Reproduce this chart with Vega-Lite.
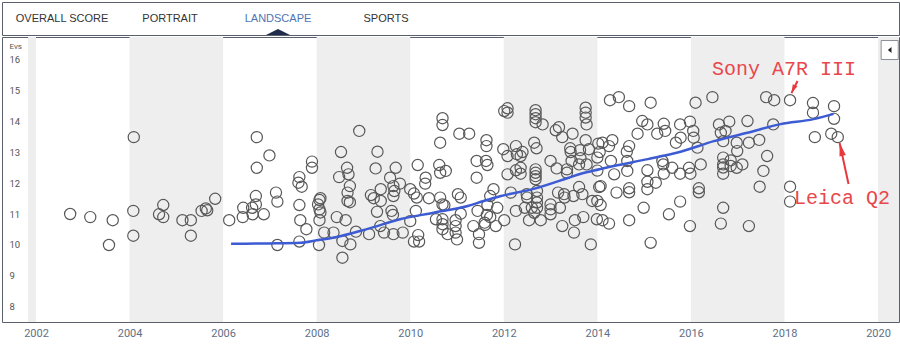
{
"$schema": "https://vega.github.io/schema/vega-lite/v6.json",
"padding": {"left": 1, "top": 1, "right": 2, "bottom": 0},
"spacing": 0,
"background": "white",
"config": {"view": {"stroke": "#59606b", "strokeWidth": 1}, "concat": {"spacing": 0}},
"datasets": {
"bands": [{"start": 2001.83, "end": 2002}, {"start": 2004, "end": 2006}, {"start": 2008, "end": 2010}, {"start": 2012, "end": 2014}, {"start": 2016, "end": 2018}, {"start": 2020, "end": 2022}],
"toggle": [{"year": 2020.25, "evs": 16.29}],
"trend": [{"year":2006.17,"evs":10.04},{"year":2007.0,"evs":10.05},{"year":2007.66,"evs":10.07},{"year":2008.0,"evs":10.15},{"year":2008.37,"evs":10.24},{"year":2009.09,"evs":10.52},{"year":2009.8,"evs":10.84},{"year":2010.5,"evs":11.04},{"year":2011.23,"evs":11.26},{"year":2011.57,"evs":11.42},{"year":2011.94,"evs":11.58},{"year":2012.64,"evs":11.81},{"year":2013.37,"evs":12.16},{"year":2013.65,"evs":12.3},{"year":2014.07,"evs":12.45},{"year":2014.35,"evs":12.55},{"year":2015.08,"evs":12.77},{"year":2015.78,"evs":13.01},{"year":2016.49,"evs":13.35},{"year":2017.21,"evs":13.62},{"year":2017.92,"evs":13.9},{"year":2018.62,"evs":14.06},{"year":2019.05,"evs":14.23}],
"notes": [{"label": "Sony A7R III", "year": 2017.99, "evs": 15.48}, {"label": "Leica Q2", "year": 2019.23, "evs": 11.32}],
"arrows": [{"name": "Sony A7R III", "year": 2018.28, "evs": 15.29, "year2": 2018.15, "evs2": 14.9}, {"name": "Leica Q2", "year": 2019.37, "evs": 11.97, "year2": 2019.18, "evs2": 13.29}],
"cameras": [
{"year":2002.73,"evs":11.0},{"year":2003.16,"evs":10.9},{"year":2003.64,"evs":10.8},{"year":2003.56,"evs":10.0},{"year":2004.09,"evs":13.48},{"year":2004.08,"evs":11.1},{"year":2004.08,"evs":10.3},{"year":2004.72,"evs":11.29},{"year":2004.63,"evs":10.99},{"year":2004.72,"evs":10.9},{"year":2005.13,"evs":10.8},{"year":2005.31,"evs":10.8},{"year":2005.31,"evs":10.3},{"year":2005.54,"evs":11.1},{"year":2005.63,"evs":11.18},{"year":2005.66,"evs":11.12},{"year":2005.83,"evs":11.49},{"year":2006.13,"evs":10.8},{"year":2006.42,"evs":10.9},{"year":2006.43,"evs":11.2},{"year":2006.62,"evs":11.2},{"year":2006.7,"evs":11.31},{"year":2006.7,"evs":11.58},{"year":2006.63,"evs":10.99},{"year":2006.72,"evs":13.48},{"year":2006.72,"evs":12.49},{"year":2006.99,"evs":12.89},{"year":2006.87,"evs":10.99},{"year":2007.13,"evs":11.69},{"year":2007.16,"evs":11.4},{"year":2007.16,"evs":10.0},{"year":2007.63,"evs":12.19},{"year":2007.61,"evs":12.01},{"year":2007.68,"evs":11.88},{"year":2007.63,"evs":11.29},{"year":2007.65,"evs":10.8},{"year":2007.78,"evs":10.51},{"year":2007.63,"evs":10.11},{"year":2007.9,"evs":12.69},{"year":2007.9,"evs":12.49},{"year":2008.08,"evs":11.51},{"year":2008.06,"evs":11.45},{"year":2008.03,"evs":11.31},{"year":2008.06,"evs":11.15},{"year":2008.08,"evs":11.05},{"year":2008.06,"evs":10.8},{"year":2008.16,"evs":10.4},{"year":2008.05,"evs":10.0},
{"year":2008.36,"evs":10.4},{"year":2008.43,"evs":10.9},{"year":2008.62,"evs":10.8},{"year":2008.52,"evs":13.0},{"year":2008.65,"evs":12.49},{"year":2008.68,"evs":12.28},{"year":2008.48,"evs":12.19},{"year":2008.71,"evs":11.9},{"year":2008.66,"evs":11.69},{"year":2008.66,"evs":11.42},{"year":2008.71,"evs":11.38},{"year":2008.55,"evs":10.13},{"year":2008.72,"evs":10.02},{"year":2008.55,"evs":9.59},{"year":2008.91,"evs":13.68},{"year":2008.84,"evs":10.43},{"year":2009.12,"evs":10.35},{"year":2009.16,"evs":11.61},{"year":2009.22,"evs":11.51},{"year":2009.3,"evs":13.01},{"year":2009.26,"evs":12.47},{"year":2009.37,"evs":11.8},{"year":2009.37,"evs":11.42},{"year":2009.29,"evs":11.07},{"year":2009.36,"evs":10.61},{"year":2009.44,"evs":10.4},{"year":2009.69,"evs":12.49},{"year":2009.57,"evs":12.17},{"year":2009.64,"evs":11.9},{"year":2009.78,"evs":11.98},{"year":2009.66,"evs":11.74},{"year":2009.64,"evs":11.58},{"year":2009.6,"evs":11.1},{"year":2009.63,"evs":10.97},{"year":2009.64,"evs":10.35},{"year":2009.84,"evs":10.4},{"year":2010.0,"evs":11.8},{"year":2010.08,"evs":11.66},{"year":2010.14,"evs":11.53},{"year":2010.16,"evs":12.58},{"year":2010.0,"evs":10.77},{"year":2010.12,"evs":11.1},{"year":2010.17,"evs":10.32},{"year":2010.08,"evs":10.11},{"year":2010.19,"evs":10.11},{"year":2010.33,"evs":12.17},{"year":2010.32,"evs":11.98},{"year":2010.4,"evs":11.51},{"year":2010.69,"evs":14.09},{"year":2010.69,"evs":13.87},{"year":2010.64,"evs":13.3},{"year":2010.62,"evs":12.58},{"year":2010.64,"evs":12.33},{"year":2010.76,"evs":12.39},{"year":2010.64,"evs":11.53},{"year":2010.69,"evs":11.31},{"year":2010.73,"evs":11.28},{"year":2010.55,"evs":10.83},{"year":2010.69,"evs":10.83},{"year":2010.69,"evs":10.67},{"year":2010.69,"evs":10.51},{"year":2010.8,"evs":10.35},
{"year":2011.05,"evs":13.59},{"year":2011.26,"evs":13.59},{"year":2011.02,"evs":11.64},{"year":2011.08,"evs":11.53},{"year":2011.08,"evs":11.01},{"year":2010.97,"evs":10.8},{"year":2010.97,"evs":10.61},{"year":2010.97,"evs":10.4},{"year":2011.0,"evs":10.18},{"year":2011.35,"evs":10.61},{"year":2011.47,"evs":10.35},{"year":2011.47,"evs":10.07},{"year":2011.42,"evs":12.71},{"year":2011.42,"evs":12.17},{"year":2011.62,"evs":12.71},{"year":2011.65,"evs":12.58},{"year":2011.63,"evs":13.38},{"year":2011.63,"evs":13.19},{"year":2011.78,"evs":11.8},{"year":2011.71,"evs":11.58},{"year":2011.44,"evs":11.1},{"year":2011.65,"evs":11.29},{"year":2011.64,"evs":10.97},{"year":2011.71,"evs":10.9},{"year":2011.86,"evs":11.2},{"year":2011.59,"evs":10.72},{"year":2011.6,"evs":10.65},{"year":2011.83,"evs":10.61},{"year":2012.01,"evs":10.8},{"year":2012.01,"evs":14.32},{"year":2012.08,"evs":14.41},{"year":2012.08,"evs":14.27},{"year":2011.99,"evs":13.09},{"year":2012.08,"evs":12.87},{"year":2012.26,"evs":13.19},{"year":2012.28,"evs":12.93},{"year":2012.36,"evs":12.87},{"year":2012.4,"evs":13.0},{"year":2012.36,"evs":12.49},{"year":2012.26,"evs":12.41},{"year":2012.08,"evs":12.28},{"year":2012.36,"evs":12.3},{"year":2012.15,"evs":11.69},{"year":2012.24,"evs":10.02},{"year":2012.26,"evs":11.1},{"year":2012.49,"evs":11.64},{"year":2012.5,"evs":11.53},{"year":2012.45,"evs":11.2},{"year":2012.54,"evs":10.8},{"year":2012.6,"evs":11.2},{"year":2012.65,"evs":13.3},{"year":2012.7,"evs":13.12},{"year":2012.68,"evs":14.35},{"year":2012.68,"evs":14.22},{"year":2012.68,"evs":14.09},{"year":2012.68,"evs":13.96},{"year":2012.83,"evs":13.89},{"year":2012.68,"evs":12.44},{"year":2012.68,"evs":12.33},{"year":2012.68,"evs":12.22},{"year":2012.68,"evs":12.12},{"year":2012.71,"evs":11.74},{"year":2012.71,"evs":11.53},{"year":2012.71,"evs":11.37},{"year":2012.71,"evs":11.2},{"year":2012.65,"evs":11.04},{"year":2012.79,"evs":10.8},{"year":2013.0,"evs":12.71},{"year":2013.11,"evs":13.7},{"year":2013.18,"evs":13.8},{"year":2013.25,"evs":13.48},{"year":2013.47,"evs":13.59},{"year":2013.13,"evs":12.47},{"year":2013.16,"evs":11.69},{"year":2013.29,"evs":11.64},{"year":2013.3,"evs":11.53},{"year":2013.0,"evs":11.31},{"year":2013.0,"evs":11.15},{"year":2013.0,"evs":10.99},{"year":2013.2,"evs":11.2},{"year":2013.25,"evs":10.61},{"year":2013.42,"evs":13.12},{"year":2013.43,"evs":13.0},{"year":2013.45,"evs":12.71},{"year":2013.35,"evs":12.44},{"year":2013.35,"evs":12.33},{"year":2013.49,"evs":11.58},{"year":2013.52,"evs":10.8},{"year":2013.5,"evs":10.4},{"year":2013.61,"evs":11.87},{"year":2013.68,"evs":11.64},{"year":2013.7,"evs":10.9},{"year":2013.63,"evs":13.06},{"year":2013.64,"evs":12.8},{"year":2013.61,"evs":12.6},{"year":2013.75,"evs":14.43},{"year":2013.75,"evs":14.27},{"year":2013.75,"evs":14.11},{"year":2013.77,"evs":13.89},{"year":2013.75,"evs":13.38},{"year":2013.82,"evs":13.09},{"year":2013.77,"evs":12.6},{"year":2013.89,"evs":11.42},{"year":2013.86,"evs":10.02},{"year":2014.0,"evs":12.82},{"year":2014.0,"evs":12.4},{"year":2014.04,"evs":11.87},{"year":2014.0,"evs":11.42},{"year":2013.99,"evs":10.83},{"year":2014.02,"evs":13.27},
{"year":2014.27,"evs":14.67},{"year":2014.46,"evs":14.77},{"year":2014.68,"evs":14.48},{"year":2015.14,"evs":14.59},{"year":2016.1,"evs":14.59},{"year":2016.46,"evs":14.77},{"year":2014.11,"evs":13.3},{"year":2014.05,"evs":13.0},{"year":2014.32,"evs":13.38},{"year":2014.25,"evs":13.19},{"year":2014.29,"evs":12.71},{"year":2014.36,"evs":12.28},{"year":2014.63,"evs":13.01},{"year":2014.68,"evs":13.19},{"year":2014.64,"evs":12.71},{"year":2014.64,"evs":12.39},{"year":2014.86,"evs":13.59},{"year":2014.96,"evs":14.0},{"year":2015.07,"evs":13.89},{"year":2015.07,"evs":12.41},{"year":2015.07,"evs":12.04},{"year":2015.07,"evs":11.8},{"year":2015.25,"evs":12.01},{"year":2015.28,"evs":13.59},{"year":2015.42,"evs":13.91},{"year":2015.45,"evs":13.68},{"year":2015.39,"evs":12.71},{"year":2015.41,"evs":12.6},{"year":2015.42,"evs":12.3},{"year":2015.6,"evs":12.49},{"year":2015.68,"evs":13.3},{"year":2015.77,"evs":13.89},{"year":2015.78,"evs":13.46},{"year":2015.77,"evs":12.3},{"year":2015.98,"evs":13.98},{"year":2016.05,"evs":13.68},{"year":2016.06,"evs":13.46},{"year":2016.14,"evs":13.14},{"year":2015.96,"evs":12.49},{"year":2015.99,"evs":12.3},{"year":2016.21,"evs":12.6},{"year":2016.17,"evs":11.83},{"year":2016.17,"evs":11.7},{"year":2016.6,"evs":13.89},{"year":2016.82,"evs":13.98},{"year":2016.64,"evs":13.62},{"year":2016.74,"evs":13.68},{"year":2016.69,"evs":13.35},{"year":2016.98,"evs":13.3},{"year":2016.99,"evs":13.03},{"year":2017.21,"evs":14.0},{"year":2017.24,"evs":13.3},{"year":2016.69,"evs":12.82},{"year":2016.69,"evs":12.6},{"year":2016.69,"evs":12.5},{"year":2016.69,"evs":12.3},{"year":2016.85,"evs":12.73},{"year":2016.85,"evs":12.55},{"year":2016.98,"evs":12.49},{"year":2017.1,"evs":12.6},{"year":2014.07,"evs":11.9},{"year":2014.07,"evs":11.29},{"year":2014.11,"evs":10.8},{"year":2014.25,"evs":10.69},{"year":2014.41,"evs":11.69},{"year":2014.68,"evs":11.83},{"year":2014.68,"evs":11.7},{"year":2014.68,"evs":10.8},{"year":2014.99,"evs":11.2},{"year":2015.14,"evs":10.07},{"year":2015.53,"evs":10.99},{"year":2015.77,"evs":11.4},{"year":2015.98,"evs":10.61},{"year":2016.64,"evs":10.69},{"year":2016.69,"evs":11.2},{"year":2017.24,"evs":10.61},
{"year":2017.61,"evs":14.77},{"year":2017.78,"evs":14.67},{"year":2018.12,"evs":14.67},{"year":2018.61,"evs":14.58},{"year":2018.61,"evs":14.27},{"year":2019.06,"evs":14.48},{"year":2019.06,"evs":14.07},{"year":2018.65,"evs":13.48},{"year":2019.0,"evs":13.59},{"year":2019.14,"evs":13.48},{"year":2017.76,"evs":13.89},{"year":2017.46,"evs":13.39},{"year":2017.63,"evs":12.87},{"year":2017.55,"evs":12.39},{"year":2017.47,"evs":11.88},{"year":2018.12,"evs":11.88},{"year":2018.12,"evs":11.4}
]
},
"vconcat": [
{
"width": 897, "height": 33,
"data": {"values": [{"tab": "OVERALL SCORE", "selected": false}, {"tab": "PORTRAIT", "selected": false}, {"tab": "LANDSCAPE", "selected": true}, {"tab": "SPORTS", "selected": false}]},
"encoding": {
  "x": {"field": "tab", "type": "nominal", "sort": null, "scale": {"type": "point", "padding": 0, "domain": ["OVERALL SCORE", "PORTRAIT", "LANDSCAPE", "SPORTS"], "range": [60, 384]}, "axis": null}
},
"layer": [
{"mark": {"type": "text", "font": "Liberation Sans", "fontSize": 11, "baseline": "middle", "align": "center"},
 "encoding": {
  "y": {"datum": 0.5, "type": "quantitative", "scale": {"domain": [0, 1]}, "axis": null},
  "text": {"field": "tab"},
  "color": {"condition": {"test": "datum.selected", "value": "#4f74b3"}, "value": "#333333"}}},
{"transform": [{"filter": "datum.selected"}],
 "mark": {"type": "point", "shape": "M-1,0L1,0L0,-0.5Z", "filled": true, "color": "#1f2c4a", "size": 576, "opacity": 1},
 "encoding": {
  "y": {"datum": 0, "type": "quantitative", "scale": {"domain": [0, 1]}, "axis": null}}}
]
},
{
"width": 897, "height": 285,
"layer": [
{"data": {"name": "bands"},
 "mark": {"type": "rect", "color": "#eeeeee", "clip": true},
 "encoding": {
  "x": {"field": "start", "type": "quantitative", "scale": {"domain": [2001.273, 2020.449], "nice": false, "zero": false},
        "axis": {"values": [2002, 2004, 2006, 2008, 2010, 2012, 2014, 2016, 2018, 2020], "format": "d", "title": null, "grid": false, "ticks": false, "tickSize": 0, "domain": false, "labelPadding": 5, "labelFont": "Roboto", "labelFontSize": 11, "labelColor": "#607085", "labelFlush": false, "labelOverlap": false}},
  "x2": {"field": "end"}}},
{"data": {"name": "cameras"},
 "mark": {"type": "point", "shape": "circle", "filled": false, "size": 125, "color": "#585858", "strokeWidth": 1.2, "opacity": 1, "clip": true},
 "encoding": {
  "x": {"field": "year", "type": "quantitative", "scale": {"domain": [2001.273, 2020.449], "nice": false, "zero": false},
        "axis": {"values": [2002, 2004, 2006, 2008, 2010, 2012, 2014, 2016, 2018, 2020], "format": "d", "title": null, "grid": false, "ticks": false, "tickSize": 0, "domain": false, "labelPadding": 5, "labelFont": "Roboto", "labelFontSize": 11, "labelColor": "#607085", "labelFlush": false, "labelOverlap": false}},
  "y": {"field": "evs", "type": "quantitative", "scale": {"domain": [7.516, 16.71], "nice": false, "zero": false},
        "axis": {"values": [8, 9, 10, 11, 12, 13, 14, 15, 16], "tickCount": 9, "title": "Evs", "titleAngle": 0, "titleAlign": "left", "titleBaseline": "top", "titleX": 7, "titleY": 5, "titleFont": "Roboto", "titleFontSize": 8, "titleFontWeight": "normal", "titleColor": "#555555", "grid": false, "ticks": false, "tickSize": 0, "domain": false, "labelAlign": "left", "labelPadding": -7, "labelFont": "Roboto", "labelFontSize": 9.5, "labelColor": "#555555", "labelOverlap": false}}}},
{"data": {"name": "trend"},
 "mark": {"type": "line", "color": "#3d5bd3", "strokeWidth": 2.5, "interpolate": "monotone"},
 "encoding": {
  "x": {"field": "year", "type": "quantitative", "title": null},
  "y": {"field": "evs", "type": "quantitative", "title": "Evs"}}},
{"data": {"name": "arrows"},
 "mark": {"type": "rule", "color": "#e8383e", "strokeWidth": 2},
 "encoding": {
  "x": {"field": "year", "type": "quantitative", "title": null},
  "y": {"field": "evs", "type": "quantitative", "title": "Evs"},
  "x2": {"field": "year2"},
  "y2": {"field": "evs2"}}},
{"data": {"name": "arrows"},
 "transform": [{"filter": "datum.name === 'Sony A7R III'"}],
 "mark": {"type": "point", "shape": "M0,0L0.3,1L-0.3,1Z", "filled": true, "color": "#e8383e", "size": 300, "angle": 205, "opacity": 1},
 "encoding": {
  "x": {"field": "year2", "type": "quantitative", "title": null},
  "y": {"field": "evs2", "type": "quantitative", "title": "Evs"}}},
{"data": {"name": "arrows"},
 "transform": [{"filter": "datum.name === 'Leica Q2'"}],
 "mark": {"type": "point", "shape": "M0,0L0.25,1L-0.25,1Z", "filled": true, "color": "#e8383e", "size": 676, "angle": 346.6, "opacity": 1},
 "encoding": {
  "x": {"field": "year2", "type": "quantitative", "title": null},
  "y": {"field": "evs2", "type": "quantitative", "title": "Evs"}}},
{"data": {"name": "notes"},
 "mark": {"type": "text", "font": "Liberation Mono", "fontSize": 20, "color": "#e8474c", "align": "center", "baseline": "alphabetic"},
 "encoding": {
  "x": {"field": "year", "type": "quantitative", "title": null},
  "y": {"field": "evs", "type": "quantitative", "title": "Evs"},
  "text": {"field": "label"}}},
{"data": {"name": "toggle"},
 "mark": {"type": "point", "shape": "M-0.9,-1L0.9,-1L0.9,1L-0.9,1Z", "filled": true, "fill": "white", "stroke": "#8a8f96", "strokeWidth": 1, "size": 361, "opacity": 1},
 "encoding": {
  "x": {"field": "year", "type": "quantitative", "title": null},
  "y": {"field": "evs", "type": "quantitative", "title": "Evs"}}},
{"data": {"name": "toggle"},
 "mark": {"type": "point", "shape": "M0.6,-1L0.6,1L-0.6,0Z", "filled": true, "color": "#222222", "size": 36, "opacity": 1},
 "encoding": {
  "x": {"field": "year", "type": "quantitative", "title": null},
  "y": {"field": "evs", "type": "quantitative", "title": "Evs"}}}
]
}
]
}
